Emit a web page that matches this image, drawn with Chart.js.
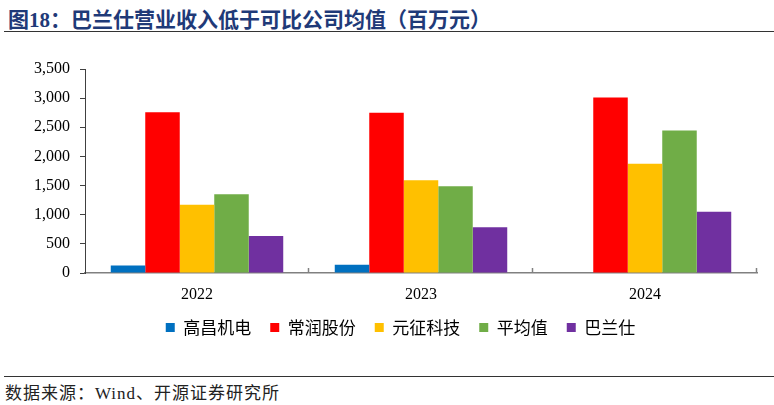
<!DOCTYPE html>
<html>
<head>
<meta charset="utf-8">
<script src="https://cdn.jsdelivr.net/npm/chart.js@4/dist/chart.umd.min.js"></script>
<style>
  body { margin: 0; background: #fff; width: 774px; height: 405px; position: relative; overflow: hidden; }
  .title { position: absolute; left: 8px; top: 3px; font: bold 21px "Liberation Serif", "Noto Sans CJK SC"; color: #1F3A78; white-space: nowrap; }
  .rule { position: absolute; left: 4px; right: 0; height: 0; border-top: 1.5px solid #333; }
  .source { position: absolute; left: 5px; top: 379px; font: 17px "Liberation Serif", "Noto Sans CJK SC"; letter-spacing: 1px; color: #222; white-space: nowrap; }
  #wrap { position: absolute; left: 0; top: 40px; width: 774px; height: 320px; }
</style>
</head>
<body>
<div class="title">图18：巴兰仕营业收入低于可比公司均值（百万元）</div>
<div class="rule" style="top:31px"></div>
<div id="wrap"><canvas id="chart"></canvas></div>
<div class="rule" style="top:376px"></div>
<div class="source">数据来源：Wind、开源证券研究所</div>
<script>
// 营业收入（百万元），读自原图
const years = ["2022", "2023", "2024"]
const gaochang = [130, 142, null]
const changrun = [2760, 2750, 3010]
const yuanzheng = [1170, 1592, 1875]
const average = [1350, 1490, 2445]
const balanshi = [636, 786, 1050]

const serif = "'Liberation Serif', 'Noto Sans CJK SC'"

// Excel-style inside tick marks on the category axis
const xTicksInside = {
  id: "xTicksInside",
  afterDatasetsDraw(chart) {
    const x = chart.scales.x
    const ctx = chart.ctx
    const step = (x.right - x.left) / years.length
    ctx.save()
    ctx.strokeStyle = "#808080"
    ctx.lineWidth = 1.5
    for (let i = 1; i <= years.length; i++) {
      const px = Math.round(x.left + i * step) - 0.5
      ctx.beginPath()
      ctx.moveTo(px, x.top)
      ctx.lineTo(px, x.top - 5)
      ctx.stroke()
    }
    ctx.restore()
  }
}

// legend sits centred under the plot area in the original, nudge it right
const legendShift = {
  id: "legendShift",
  afterLayout(chart) {
    const lg = chart.legend
    if (lg) {
      lg.left += 22
      lg.right += 22
    }
  }
}

const mk = (label, data, color) => ({
  label: label,
  data: data,
  backgroundColor: color,
  borderColor: color,
  borderWidth: 0
})

new Chart(document.getElementById("chart"), {
  type: "bar",
  data: {
    labels: years,
    datasets: [
      mk("高昌机电", gaochang, "#0070C0"),
      mk("常润股份", changrun, "#FF0000"),
      mk("元征科技", yuanzheng, "#FFC000"),
      mk("平均值", average, "#70AD47"),
      mk("巴兰仕", balanshi, "#7030A0")
    ]
  },
  options: {
    responsive: true,
    maintainAspectRatio: false,
    animation: false,
    datasets: {
      bar: { barPercentage: 1, categoryPercentage: 0.77 }
    },
    layout: { padding: { top: 29, right: 17, left: 0, bottom: 14 } },
    plugins: {
      title: { display: false },
      tooltip: { enabled: false },
      legend: {
        position: "bottom",
        labels: {
          boxWidth: 9,
          boxHeight: 9,
          padding: 19,
          color: "#000",
          font: { family: "'Noto Sans CJK SC'", size: 17 }
        }
      }
    },
    scales: {
      x: {
        grid: { display: false, drawTicks: false },
        border: { display: true, color: "#808080", width: 1.5 },
        ticks: { color: "#000", padding: 12, font: { family: serif, size: 16 } },
        afterFit: (scale) => { scale.height = 27 }
      },
      y: {
        min: 0,
        max: 3500,
        ticks: {
          stepSize: 500,
          padding: 10,
          color: "#000",
          font: { family: serif, size: 16 },
          callback: (v) => v.toLocaleString("en-US")
        },
        grid: { drawOnChartArea: false, drawTicks: true, tickLength: 5, color: "#404040" },
        border: { display: true, color: "#404040", width: 1 },
        afterFit: (scale) => { scale.width = 85 }
      }
    }
  },
  plugins: [xTicksInside, legendShift]
})
</script>
</body>
</html>
